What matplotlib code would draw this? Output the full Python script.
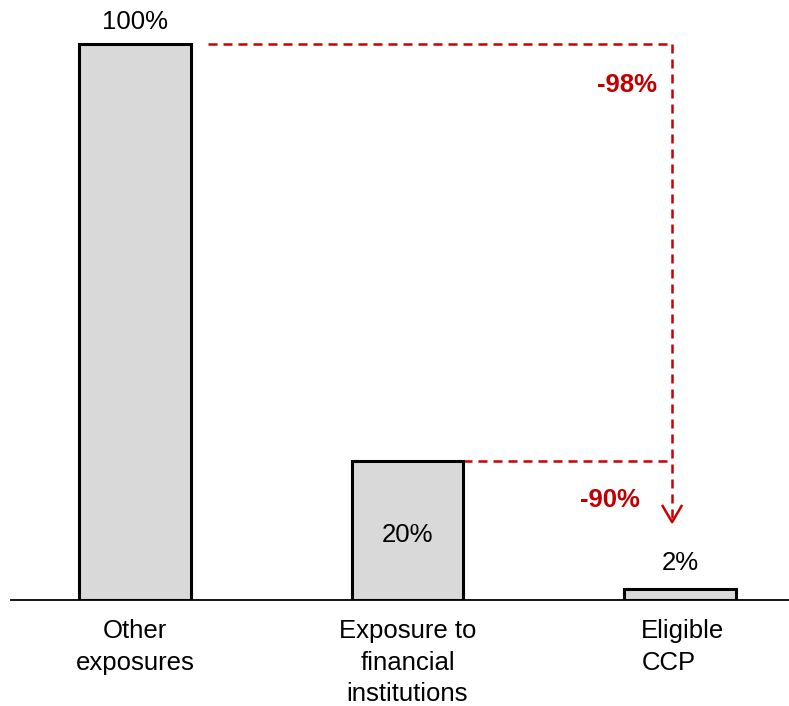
import matplotlib
matplotlib.use("Agg")
import matplotlib.pyplot as plt
import matplotlib.transforms as mtransforms

categories = ["Other\nexposures", "Exposure to\nfinancial\ninstitutions", "Eligible\nCCP"]
bar_heights = [100, 25, 2]
value_labels = ["100%", "20%", "2%"]
change_labels = ["-98%", "-90%"]

plt.rcParams['font.family'] = ['Liberation Sans', 'DejaVu Sans']

W, H = 789, 706
fig = plt.figure(figsize=(W / 100, H / 100), dpi=100)
ax = fig.add_axes([11 / W, 106 / H, 778 / W, 600 / H])

xs = list(range(len(categories)))
bw = 0.41
ax.bar(xs, bar_heights, width=bw, color="#D9D9D9", edgecolor="black", linewidth=2.2, zorder=3)

ax.set_xlim(-0.455, 2.4)
ax.set_ylim(0, 107.9)

for s in ["left", "right", "top"]:
    ax.spines[s].set_visible(False)
ax.spines["bottom"].set_linewidth(1.3)
ax.set_yticks([])
ax.set_xticks(xs)
ax.set_xticklabels(categories, fontsize=18.5, linespacing=1.39)
lab = ax.get_xticklabels()[2]
lab.set_multialignment("left")
ax.tick_params(axis="x", length=0, pad=14)
fig.canvas.draw()
for t in ax.get_xticklabels()[2:]:
    t.set_transform(t.get_transform() + mtransforms.ScaledTranslation(3 / 100, 0, fig.dpi_scale_trans))

# value labels
ax.text(xs[0], 104.0, value_labels[0], ha="center", va="center", fontsize=18.5)
ax.text(xs[1], 11.7, value_labels[1], ha="center", va="center", fontsize=18.5)
ax.text(xs[2], 6.6, value_labels[2], ha="center", va="center", fontsize=18.5)

# dashed connectors
red = "#CC0000"
vx = 1.971
ls = (0, (3.6, 2.4))
ax.plot([xs[0] + bw / 2 + 0.063, vx], [bar_heights[0], bar_heights[0]], color=red, lw=1.8, linestyle=ls)
ax.plot([vx, vx], [bar_heights[0], 14.3], color=red, lw=1.8, linestyle=ls)
ax.plot([xs[1] + bw / 2, vx], [bar_heights[1], bar_heights[1]], color=red, lw=1.8, linestyle=ls)
ax.plot([vx - 0.037, vx, vx + 0.037], [17.1, 14.0, 17.1], color=red, lw=1.8, solid_capstyle="butt")

ax.text(1.806, 92.6, change_labels[0], ha="center", va="center", fontsize=18.5, fontweight="bold", color="#C00000")
ax.text(1.743, 18.0, change_labels[1], ha="center", va="center", fontsize=18.5, fontweight="bold", color="#C00000")

fig.savefig("out.png", dpi=100)
